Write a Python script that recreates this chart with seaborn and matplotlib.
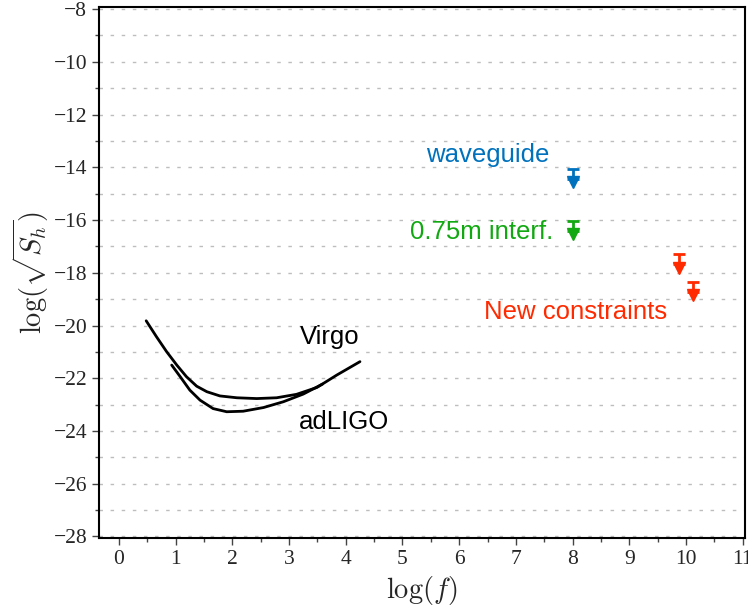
import matplotlib
matplotlib.use("Agg")
import matplotlib.pyplot as plt
import numpy as np
import pandas as pd
import seaborn as sns

# detector sensitivity curves
virgo_x = [0.48, 0.66, 0.84, 1.02, 1.19, 1.37, 1.55, 1.78, 2.08, 2.43, 2.78, 3.13, 3.49, 3.84, 4.25]
virgo_y = [-19.82, -20.42, -20.99, -21.50, -21.94, -22.30, -22.51, -22.67, -22.74, -22.77, -22.74, -22.61, -22.35, -21.88, -21.37]
ligo_x = [0.93, 1.08, 1.25, 1.43, 1.66, 1.90, 2.19, 2.55, 2.90, 3.25, 3.59]
ligo_y = [-21.50, -21.94, -22.45, -22.83, -23.15, -23.27, -23.25, -23.11, -22.89, -22.60, -22.22]

# upper limits
lim_x = [8.0, 8.0, 9.88, 10.12]
lim_y = [-14.05, -16.02, -17.28, -18.34]
lim_col = ['#0072bd', '#12a812', '#ff2a00', '#ff2a00']

labels = ['Virgo', 'adLIGO', 'waveguide', '0.75m interf.', 'New constraints']
label_x = [3.72, 3.97, 6.51, 6.40, 8.06]
label_y = [-20.43, -23.67, -13.55, -16.44, -19.48]
label_col = ['black', 'black', '#0072bd', '#12a812', '#ff2a00']

df = pd.DataFrame({
    'x': virgo_x + ligo_x,
    'y': virgo_y + ligo_y,
    'curve': ['Virgo'] * len(virgo_x) + ['adLIGO'] * len(ligo_x),
})

sns.set_style("white")
plt.rcParams['mathtext.fontset'] = 'cm'
plt.rcParams['font.family'] = ['Liberation Serif', 'DejaVu Serif']

fig = plt.figure(figsize=(7.48, 6.09), dpi=100)
ax = fig.add_axes([0.1325, 0.1165, 0.8635, 0.872])

sns.lineplot(data=df, x='x', y='y', hue='curve', palette=['black', 'black'],
             linewidth=2.0, legend=False, sort=False, ax=ax)

for x, y, c in zip(lim_x, lim_y, lim_col):
    ax.errorbar([x], [y], yerr=[[0.4], [0]], fmt='none', ecolor=c,
                elinewidth=2, capsize=4.5, capthick=2, zorder=3)
    ax.plot([x], [y - 0.52], marker='v', ms=8, color=c, zorder=3)

for t, x, y, c in zip(labels, label_x, label_y, label_col):
    ax.text(x, y, t, color=c, ha='center', va='center', fontsize=18.5,
            family=['Liberation Sans', 'DejaVu Sans'])

ax.set_xlim(-0.35, 11.04)
ax.set_ylim(-28.06, -7.92)
ax.set_xticks(np.arange(0, 12, 1))
ax.set_xticks(np.arange(0.5, 11, 1), minor=True)
ax.set_yticks(np.arange(-28, -7, 2))
ax.set_yticks(np.arange(-27, -8, 2), minor=True)
ax.set_yticklabels(['\u2212%d' % abs(v) for v in range(-28, -7, 2)])

ax.grid(True, axis='y', which='both', color='#bdbdbd', linestyle=(0, (2.5, 5.5)), linewidth=1)
ax.grid(False, axis='x')
for s in ax.spines.values():
    s.set_color('black')
    s.set_linewidth(1.5)
ax.tick_params(axis='both', which='major', direction='out', length=5, width=1,
               labelsize=15.5, color='#444444', bottom=True, left=True)
ax.tick_params(axis='both', which='minor', direction='out', length=3, width=1,
               color='#444444', bottom=True, left=True)

ax.set_xlabel(r'$\log(f)$', fontsize=20.5, labelpad=4)
ax.set_ylabel(r'$\log(\sqrt{S_h})$', fontsize=20.5, labelpad=2)

fig.savefig('out.png', dpi=100)
